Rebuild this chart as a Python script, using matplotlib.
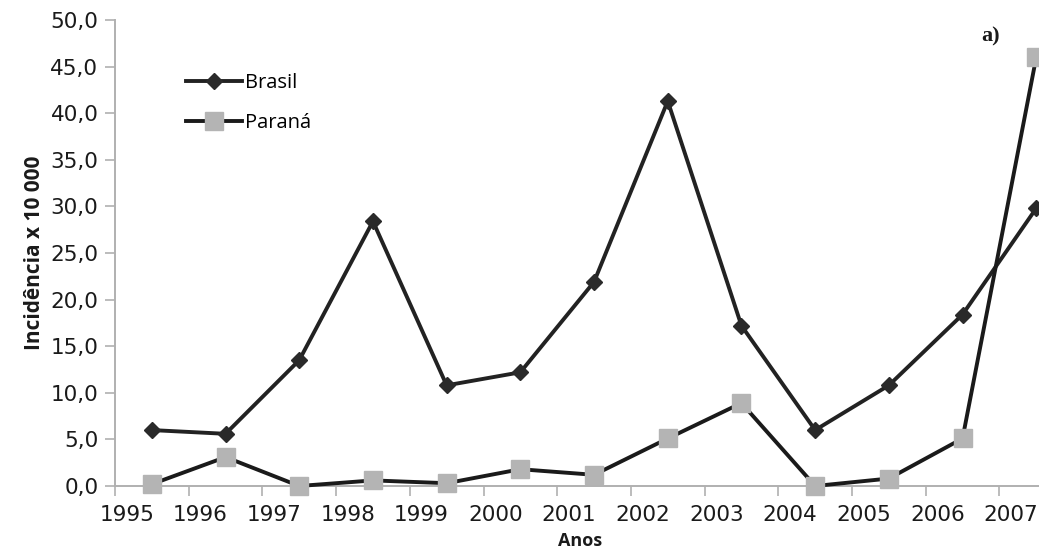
import numpy as np
import matplotlib
matplotlib.use("Agg")
import matplotlib.pyplot as plt
from matplotlib.ticker import FuncFormatter

anos = ["1995", "1996", "1997", "1998", "1999", "2000", "2001",
        "2002", "2003", "2004", "2005", "2006", "2007"]
brasil = [6.0, 5.6, 13.5, 28.4, 10.8, 12.2, 21.9, 41.3, 17.2, 6.0, 10.8, 18.4, 29.8]
parana = [0.2, 3.1, 0.0, 0.6, 0.3, 1.8, 1.2, 5.1, 8.9, 0.0, 0.8, 5.1, 46.0]

plt.rcParams['font.family'] = ['DejaVu Sans']

fig = plt.figure(figsize=(10.39, 5.48), dpi=100)
ax = fig.add_axes([115 / 1039, 62 / 548, 1 - 115 / 1039, 466 / 548])

x = np.arange(len(anos))
ax.plot(x, brasil, color='#222222', lw=2.8, marker='D', ms=8.5,
        markerfacecolor='#2a2a2a', markeredgecolor='#2a2a2a', label='Brasil',
        clip_on=False, zorder=3)
ax.plot(x, parana, color='#1a1a1a', lw=2.8, marker='s', ms=13,
        markerfacecolor='#b4b4b4', markeredgecolor='#b4b4b4', label='Paraná',
        clip_on=False, zorder=4)

ax.set_ylim(0, 50)
ax.set_xlim(-0.5, -0.5 + (1039 - 115) / 73.7)
ax.set_yticks(np.arange(0, 50.1, 5))
ax.yaxis.set_major_formatter(FuncFormatter(lambda v, p: f"{v:.1f}".replace('.', ',')))

# tick marks between categories, labels shifted slightly left
ax.set_xticks(x - 0.5, minor=True)
ax.set_xticks(x - 0.34)
ax.set_xticklabels(anos)
ax.tick_params(axis='x', which='major', length=0, pad=14, labelsize=15.5, colors='#1a1a1a')
ax.tick_params(axis='x', which='minor', length=7, width=1.2, color='#b0b0b0', direction='out')
ax.tick_params(axis='y', length=7, width=1.2, color='#b0b0b0', labelsize=15.5,
               labelcolor='#1a1a1a', pad=5)

for s in ['top', 'right']:
    ax.spines[s].set_visible(False)
for s in ['left', 'bottom']:
    ax.spines[s].set_color('#b0b0b0')
    ax.spines[s].set_linewidth(1.4)

ax.set_ylabel('Incidência x 10 000', family='Open Sans', fontsize=15, fontweight='bold',
              color='#1a1a1a', labelpad=4)
fig.text(580 / 1039, 7 / 548, 'Anos', family='Open Sans', fontsize=13, fontweight='bold',
         color='#1a1a1a', ha='center', va='center')

leg = ax.legend(loc='upper left', bbox_to_anchor=(0.057, 0.925), frameon=False,
                prop={'family': 'Open Sans', 'size': 14.5},
                handlelength=2.8, handletextpad=0.15, labelspacing=1.0)

fig.text(0.944, 0.925, 'a)', family='Liberation Serif', fontweight='bold', fontsize=16, color='#1a1a1a')

fig.savefig('out.png', dpi=100)
